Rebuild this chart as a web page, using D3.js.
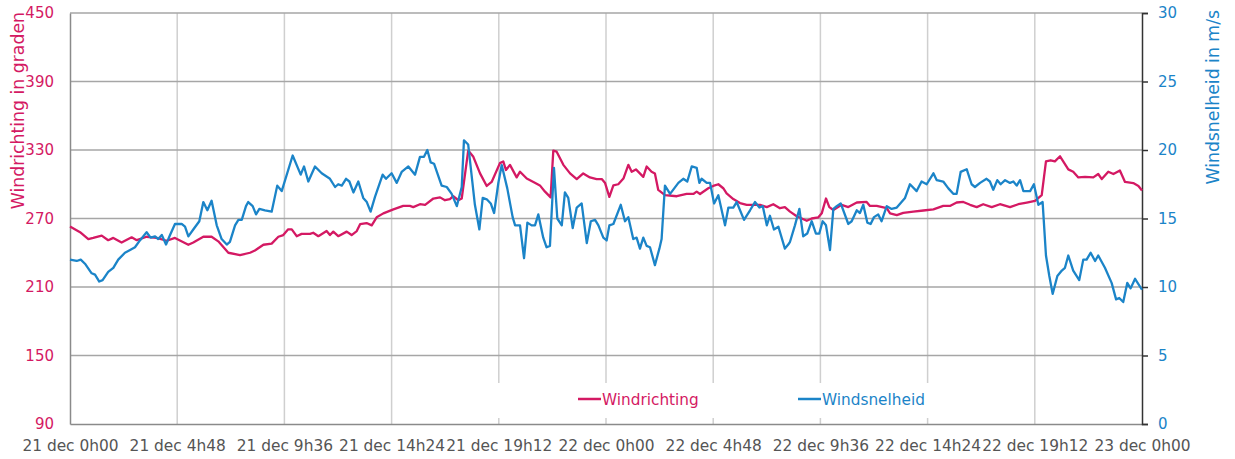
<!DOCTYPE html>
<html>
<head>
<meta charset="utf-8">
<script src="https://cdn.jsdelivr.net/npm/d3@7"></script>
<style>
  html, body { margin: 0; padding: 0; background: #fff; }
  svg { display: block; font-family: "DejaVu Sans", Verdana, sans-serif; }
</style>
</head>
<body>
<svg id="chart" width="1235" height="459"></svg>
<script>
// ---- data (hours since 21 dec 0h00) ----
const xTickHours = [0, 4.8, 9.6, 14.4, 19.2, 24, 28.8, 33.6, 38.4, 43.2, 48];
const xTickLabels = ["21 dec 0h00", "21 dec 4h48", "21 dec 9h36", "21 dec 14h24", "21 dec 19h12",
  "22 dec 0h00", "22 dec 4h48", "22 dec 9h36", "22 dec 14h24", "22 dec 19h12", "23 dec 0h00"];
const leftTicks = [90, 150, 210, 270, 330, 390, 450];
const rightTicks = [0, 5, 10, 15, 20, 25, 30];
const seriesNames = ["Windrichting", "Windsnelheid"];

const dirHours = [0,0.45,0.82,1.04,1.42,1.71,1.94,2.31,2.76,2.99,
  3.43,3.88,4.33,4.70,5.30,5.52,5.97,6.34,6.64,7.09,
  7.61,8.06,8.28,8.66,9.03,9.33,9.55,9.77,9.93,10.15,
  10.37,10.75,10.89,11.12,11.49,11.64,11.79,12.01,12.39,12.61,
  12.84,12.99,13.28,13.51,13.73,14.03,14.48,14.92,15.22,15.37,
  15.67,15.90,16.27,16.57,16.79,17.01,17.16,17.39,17.54,17.83,
  18.06,18.36,18.66,18.88,19.25,19.40,19.52,19.70,20.00,20.15,
  20.45,20.75,21.04,21.27,21.52,21.64,21.79,22.09,22.39,22.69,
  22.98,23.28,23.58,23.81,23.96,24.15,24.33,24.55,24.78,25.00,
  25.15,25.34,25.67,25.82,26.04,26.19,26.34,26.64,27.17,27.61,
  27.91,28.06,28.21,28.58,28.80,29.03,29.25,29.40,29.70,30.00,
  30.30,30.90,31.20,31.49,31.79,32.01,32.24,32.54,32.99,33.21,
  33.51,33.66,33.85,34.00,34.18,34.55,34.85,35.23,35.67,35.82,
  36.12,36.57,36.72,37.02,37.31,37.76,38.21,38.66,39.10,39.40,
  39.70,40.00,40.30,40.60,40.89,41.27,41.64,42.09,42.46,42.84,
  43.21,43.51,43.70,43.91,44.10,44.33,44.70,44.92,45.15,45.45,
  45.82,46.04,46.20,46.49,46.72,47.01,47.24,47.61,47.84,48.00];
const dirValues = [263,258,252,253,255,251,253,249,253.5,251,
  254,253,250.5,253,247,249,254,254,250,240,
  238,240,242,247,248,254,255.5,260.5,260.5,254.5,
  256.5,256.5,257.5,254.5,259,255.5,258.5,254.5,258.5,255.5,
  259,265,266,264,271,274.5,278,281,281,280,
  282.5,282,287.5,288.5,286,287,289.5,286,287.5,329.5,
  324,309.5,298.5,302,318.5,320,312.5,317,306,311,
  305,302,299,293.5,288.5,329.5,328.5,317,309.5,304.5,
  309.5,306,304.5,304.5,301,289,299,300,305,317,
  311,313,306.5,315.5,311,309.5,295,290.5,289.5,291.5,
  291.5,293.5,291.5,296.5,298.5,300,296.5,292,287,283.5,
  282,282,280,282.5,279,280,276,272,268,270,
  271,274.5,287.5,280,277.5,282,280,284,284.5,281,
  281,279,274.5,273,275,276,277,278,281,281,
  284,284.5,282,280,282.5,280,282.5,280,282.5,284,
  285.5,290.5,320,321,320,324.5,313,311,306,306.5,
  306,309,304.5,311,309,312,302,301,298.5,294.5];

const speedHours = [0,0.30,0.48,0.67,0.97,1.12,1.31,1.46,1.71,1.94,
  2.16,2.46,2.69,2.91,3.13,3.43,3.61,3.81,3.95,4.11,
  4.30,4.48,4.70,5.00,5.15,5.30,5.52,5.79,5.97,6.15,
  6.34,6.57,6.79,7.02,7.16,7.39,7.54,7.69,7.88,7.98,
  8.18,8.33,8.48,8.73,9.03,9.28,9.48,9.97,10.33,10.48,
  10.67,10.97,11.27,11.64,11.87,12.01,12.17,12.36,12.51,12.69,
  12.91,13.13,13.29,13.46,13.66,14.00,14.15,14.40,14.63,14.85,
  15.15,15.45,15.67,15.85,16.00,16.15,16.30,16.64,16.87,17.09,
  17.32,17.54,17.64,17.83,18.13,18.33,18.48,18.66,18.84,18.99,
  19.18,19.33,19.58,19.82,19.93,20.15,20.33,20.48,20.67,20.82,
  20.97,21.19,21.34,21.49,21.67,21.82,22.02,22.16,22.31,22.51,
  22.69,22.91,23.14,23.32,23.51,23.66,23.88,24.03,24.15,24.33,
  24.66,24.85,25.00,25.22,25.37,25.52,25.67,25.82,25.97,26.19,
  26.39,26.49,26.64,26.87,27.24,27.46,27.64,27.84,28.06,28.18,
  28.28,28.51,28.66,28.84,29.03,29.33,29.48,29.70,29.85,30.18,
  30.45,30.67,30.87,31.02,31.20,31.34,31.52,31.72,32.01,32.16,
  32.24,32.46,32.66,32.83,33.01,33.21,33.40,33.55,33.70,33.85,
  34.03,34.18,34.33,34.51,34.85,35.00,35.23,35.37,35.52,35.70,
  35.85,36.00,36.19,36.34,36.57,36.79,37.02,37.39,37.61,37.91,
  38.13,38.36,38.66,38.81,39.10,39.33,39.55,39.70,39.88,40.15,
  40.37,40.52,40.75,41.04,41.19,41.34,41.52,41.67,41.87,42.09,
  42.24,42.39,42.54,42.69,42.99,43.16,43.36,43.55,43.70,43.85,
  44.00,44.21,44.41,44.55,44.70,44.92,45.19,45.37,45.52,45.70,
  45.90,46.04,46.34,46.64,46.84,46.98,47.16,47.34,47.49,47.69,
  48.00];
const speedValues = [12.0,11.9,12.0,11.7,11.0,10.9,10.4,10.5,11.1,11.4,
  12.0,12.5,12.7,12.9,13.4,14.0,13.6,13.7,13.5,13.8,
  13.1,13.8,14.6,14.6,14.4,13.7,14.2,14.8,16.2,15.6,
  16.3,14.5,13.5,13.1,13.3,14.5,14.9,14.9,15.9,16.2,
  15.9,15.3,15.7,15.6,15.5,17.4,17.0,19.6,18.2,18.8,
  17.7,18.8,18.3,17.9,17.3,17.5,17.4,17.9,17.7,16.9,
  17.7,16.5,16.2,15.5,16.6,18.2,17.9,18.3,17.6,18.4,
  18.8,18.2,19.5,19.5,20.0,19.1,19.0,17.4,17.3,16.8,
  15.9,17.3,20.7,20.4,16.0,14.2,16.5,16.4,16.1,15.4,
  17.6,18.9,17.2,15.1,14.5,14.5,12.1,14.7,14.5,14.5,
  15.3,13.6,12.9,13.0,18.7,15.0,14.5,16.9,16.5,14.3,
  15.8,16.1,13.2,14.8,14.9,14.5,13.6,13.4,14.5,14.6,
  16.0,14.8,15.1,13.5,13.6,12.8,13.6,13.0,12.9,11.6,
  12.8,13.5,17.4,16.8,17.6,17.9,17.7,18.8,18.7,17.6,
  17.9,17.6,17.6,16.1,16.7,14.5,15.8,15.8,16.2,14.9,
  15.6,16.2,15.8,15.9,14.5,15.2,14.2,14.4,12.8,13.1,
  13.3,14.5,15.7,13.7,13.9,14.8,13.9,13.9,14.8,14.5,
  12.7,15.7,15.9,16.1,14.6,14.8,15.6,15.4,16.0,14.7,
  14.6,15.1,15.3,14.8,15.9,15.7,15.8,16.5,17.5,17.0,
  17.7,17.5,18.3,17.8,17.7,17.2,16.8,16.8,18.4,18.6,
  17.5,17.3,17.6,17.9,17.7,17.1,17.8,17.5,17.8,17.6,
  17.7,17.4,17.8,17.0,17.0,17.5,16.0,16.2,12.3,10.8,
  9.5,10.8,11.2,11.4,12.3,11.2,10.5,12.0,12.0,12.5,
  11.9,12.3,11.4,10.3,9.1,9.2,8.9,10.3,9.9,10.6,
  9.8];

// ---- layout / style ----
const W = 1235, H = 459;
const plot = { left: 70, right: 1142, top: 13, bottom: 424 };
const RED = "#d41963", BLUE = "#1b84c8";
const FONT = 15;
const FF = "DejaVu Sans, Verdana, sans-serif";

const svg = d3.select("#chart");

const x = d3.scaleLinear().domain([0, 48]).range([plot.left, plot.right]);
const yL = d3.scaleLinear().domain([90, 450]).range([plot.bottom, plot.top]);
const yR = d3.scaleLinear().domain([0, 30]).range([plot.bottom, plot.top]);

// vertical gridlines
svg.append("g")
  .selectAll("line").data(xTickHours.slice(1, -1)).join("line")
  .attr("x1", d => x(d)).attr("x2", d => x(d))
  .attr("y1", plot.top).attr("y2", plot.bottom)
  .attr("stroke", "#cfcfcf").attr("stroke-width", 1.5);

// horizontal gridlines
svg.append("g")
  .selectAll("line").data(leftTicks.slice(1)).join("line")
  .attr("x1", plot.left).attr("x2", plot.right)
  .attr("y1", d => yL(d)).attr("y2", d => yL(d))
  .attr("stroke", "#a6a6a6").attr("stroke-width", 1.5);

// legend background (covers gridlines)
const legendG = svg.append("g");
legendG.append("rect")
  .attr("x", 490).attr("y", 383).attr("width", 445).attr("height", 35)
  .attr("fill", "#fff");

// left axis
const axL = svg.append("g").attr("transform", `translate(${plot.left},0)`)
  .call(d3.axisLeft(yL).tickValues(leftTicks).tickSize(0).tickPadding(16).tickFormat(d3.format("d")));
axL.select(".domain").attr("stroke", "#8a8a8a").attr("stroke-width", 1.5);
axL.selectAll("text").attr("fill", RED).attr("font-size", FONT).attr("font-family", FF);

// bottom axis
const axB = svg.append("g").attr("transform", `translate(0,${plot.bottom})`)
  .call(d3.axisBottom(x).tickValues(xTickHours).tickSize(0).tickPadding(16)
    .tickFormat((d, i) => xTickLabels[i]));
axB.select(".domain").attr("stroke", "#8a8a8a").attr("stroke-width", 1.5);
axB.selectAll("text").attr("fill", "#555").attr("font-size", 15.4).attr("font-family", FF);

// right axis
const axR = svg.append("g").attr("transform", `translate(${plot.right},0)`)
  .call(d3.axisRight(yR).tickValues(rightTicks).tickSize(6).tickPadding(10).tickFormat(d3.format("d")));
axR.select(".domain").attr("stroke", "#333").attr("stroke-width", 1.5);
axR.selectAll(".tick line").attr("stroke", "#333").attr("stroke-width", 1.5);
axR.selectAll("text").attr("fill", BLUE).attr("font-size", FONT).attr("font-family", FF);

// axis titles
svg.append("text")
  .attr("transform", `translate(24,${plot.top - 1}) rotate(-90)`)
  .attr("text-anchor", "end")
  .attr("fill", RED).attr("font-size", 17.3)
  .text("Windrichting in graden");
svg.append("text")
  .attr("transform", `translate(1219,${plot.top - 3}) rotate(-90)`)
  .attr("text-anchor", "end")
  .attr("fill", BLUE).attr("font-size", 17.3)
  .text("Windsnelheid in m/s");

// series
const dirData = dirHours.map((h, i) => [h, dirValues[i]]);
const speedData = speedHours.map((h, i) => [h, speedValues[i]]);

svg.append("path").datum(dirData)
  .attr("fill", "none").attr("stroke", RED).attr("stroke-width", 2.3)
  .attr("stroke-linejoin", "round")
  .attr("d", d3.line().x(d => x(d[0])).y(d => yL(d[1])));

svg.append("path").datum(speedData)
  .attr("fill", "none").attr("stroke", BLUE).attr("stroke-width", 2.3)
  .attr("stroke-linejoin", "round")
  .attr("d", d3.line().x(d => x(d[0])).y(d => yR(d[1])));

// legend
const legendItems = [
  { name: seriesNames[0], color: RED, x0: 578 },
  { name: seriesNames[1], color: BLUE, x0: 798 }
];
legendItems.forEach(it => {
  legendG.append("line")
    .attr("x1", it.x0).attr("x2", it.x0 + 23)
    .attr("y1", 399).attr("y2", 399)
    .attr("stroke", it.color).attr("stroke-width", 2.5);
  legendG.append("text")
    .attr("x", it.x0 + 24).attr("y", 404.5)
    .attr("fill", it.color).attr("font-size", 15.3)
    .text(it.name);
});
</script>
</body>
</html>
